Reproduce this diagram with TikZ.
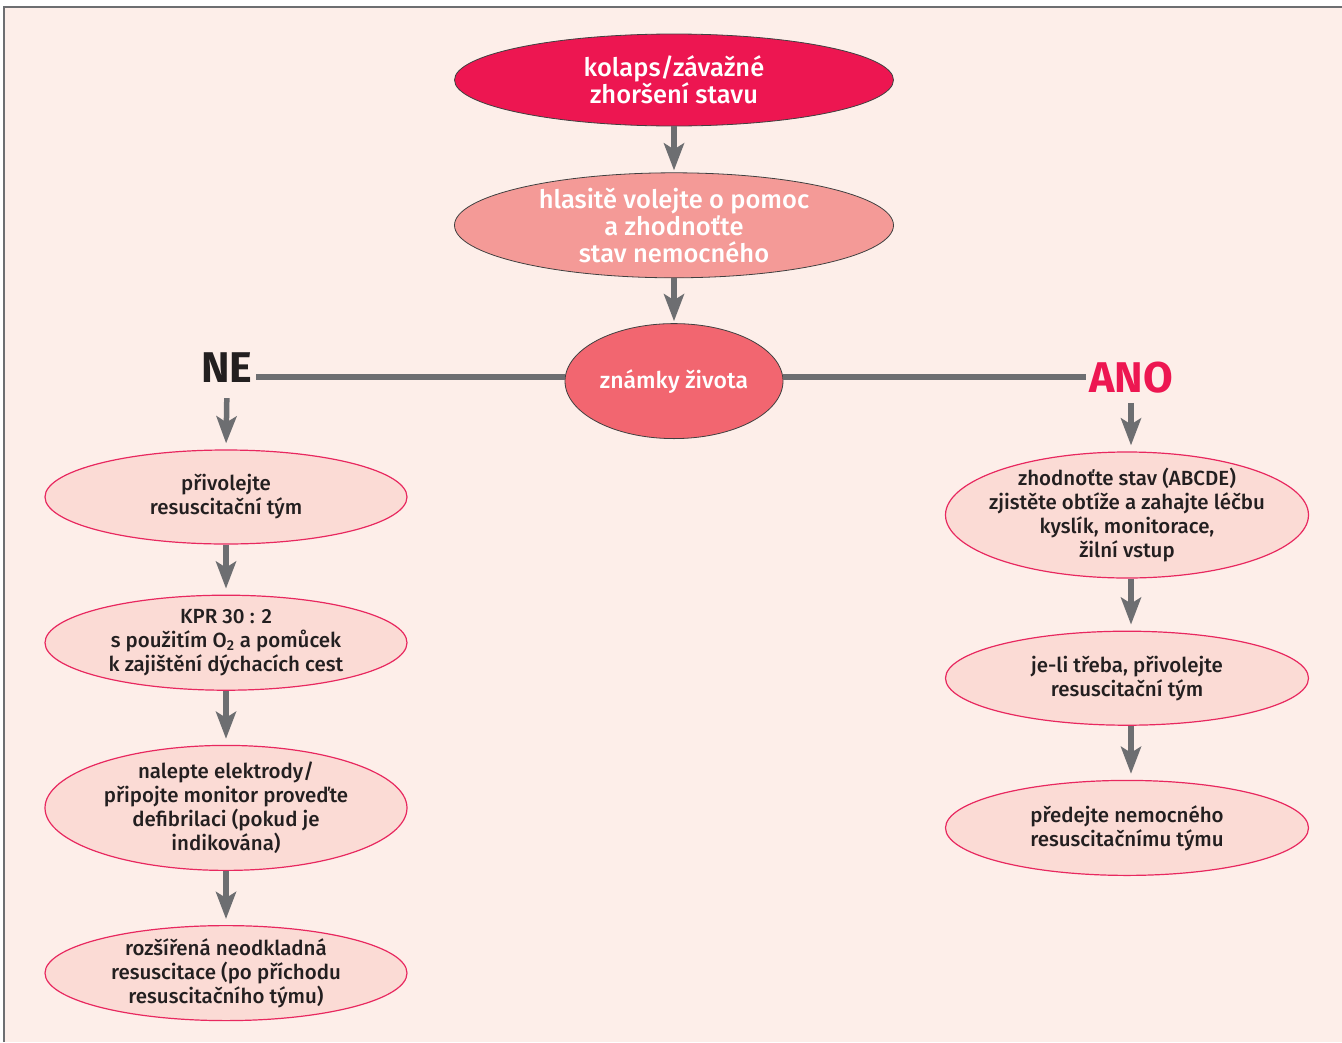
\documentclass[tikz,border=0pt]{standalone}
\usepackage{fontspec}
\setmainfont{Fira Sans}[UprightFont={Fira Sans Medium}, BoldFont={Fira Sans Bold}]
\usetikzlibrary{shapes.geometric, arrows.meta, positioning}
\definecolor{bgpink}{HTML}{FDEEE9}
\definecolor{alarmred}{HTML}{ED1651}
\definecolor{callpink}{HTML}{F49A97}
\definecolor{signsred}{HTML}{F26670}
\definecolor{boxpink}{HTML}{FBDBD5}
\definecolor{boxline}{HTML}{E8285F}
\definecolor{linegray}{HTML}{6D6E71}
\definecolor{textdark}{HTML}{231F20}

\begin{document}
\begin{tikzpicture}[
    x=1pt, y=1pt,
    oval/.style={ellipse, draw, inner sep=-14pt, align=center},
    alarm/.style={oval, fill=alarmred, draw=black!75, line width=0.8pt, text=white, minimum width=439pt, font=\fontsize{25.5}{27}\selectfont},
    call/.style={alarm, fill=callpink},
    signs/.style={alarm, fill=signsred, minimum width=218pt, minimum height=115pt, font=\fontsize{23}{25}\selectfont},
    stepbox/.style={oval, fill=boxpink, draw=boxline, line width=1.2pt, text=textdark, minimum width=362pt, font=\fontsize{20.5}{24}\selectfont},
    answer/.style={inner sep=3pt, font=\fontsize{43}{43}\selectfont\bfseries},
    arrow/.style={-{Stealth[length=27pt, width=20pt, inset=6pt]}, line width=5.5pt, draw=linegray, shorten >=6pt},
    branch/.style={line width=5.5pt, draw=linegray},
    node distance=50pt
]
    % frame and background
    \useasboundingbox (0,0) rectangle (1342,-1042);
    \fill[bgpink] (4,-7) rectangle (1342,-1042);
    \draw[linegray, line width=1.5pt] (4,-1042) -- (4,-7) -- (1342,-7);

    % centre column
    \node[alarm, minimum height=92pt] (collapse) at (674,-80) {kolaps/závažné\\zhoršení stavu};
    \node[call, minimum height=105pt, below=46pt of collapse] (help) {hlasitě volejte o pomoc\\a zhodnoťte\\stav nemocného};
    \node[signs, below=45pt of help] (signs) {známky života};
    \coordinate (split) at (674,-377);

    \node[answer, text=textdark] (no) at (227,-368) {NE};
    \node[answer, text=alarmred] (yes) at (1131,-378) {ANO};

    % left column
    \node[stepbox, minimum height=94pt] (team) at (226,-497) {přivolejte\\resuscitační tým};
    \node[stepbox, minimum height=95pt, below=50pt of team] (cpr) {KPR 30 : 2\\s použitím O\textsubscript{2} a pomůcek\\k zajištění dýchacích cest};
    \node[stepbox, minimum height=125pt, below=54pt of cpr] (defib) {nalepte elektrody/\\připojte monitor proveďte\\defibrilaci (pokud je\\indikována)};
    \node[stepbox, minimum height=95pt, below=54pt of defib] (als) {rozšířená neodkladná\\resuscitace (po příchodu\\resuscitačního týmu)};

    % right column
    \node[stepbox, minimum width=363pt, minimum height=126pt] (assess) at (1127,-515) {zhodnoťte stav (ABCDE)\\zjistěte obtíže a zahajte léčbu\\kyslík, monitorace,\\žilní vstup};
    \node[stepbox, minimum width=363pt, minimum height=94pt, below=52pt of assess] (callteam) {je-li třeba, přivolejte\\resuscitační tým};
    \node[stepbox, minimum width=363pt, minimum height=95pt, below=54pt of callteam] (handover) {předejte nemocného\\resuscitačnímu týmu};

    \draw[arrow, shorten >=2pt] (collapse) -- (help);
    \draw[arrow, shorten >=2pt] (help) -- (signs);
    \draw[branch] (signs.west |- split) -- (no.east |- split);
    \draw[branch] (signs.east |- split) -- (yes.west |- split);

    \draw[arrow, shorten <=12pt] (no.south) -- (team.north);
    \draw[arrow] (team) -- (cpr);
    \draw[arrow] (cpr) -- (defib);
    \draw[arrow] (defib) -- (als);

    \draw[arrow, shorten <=6pt] (yes.south) -- (yes.south |- assess.north);
    \draw[arrow] (assess.south -| yes.south) -- (yes.south |- callteam.north);
    \draw[arrow] (callteam.south -| yes.south) -- (yes.south |- handover.north);
\end{tikzpicture}
\end{document}
